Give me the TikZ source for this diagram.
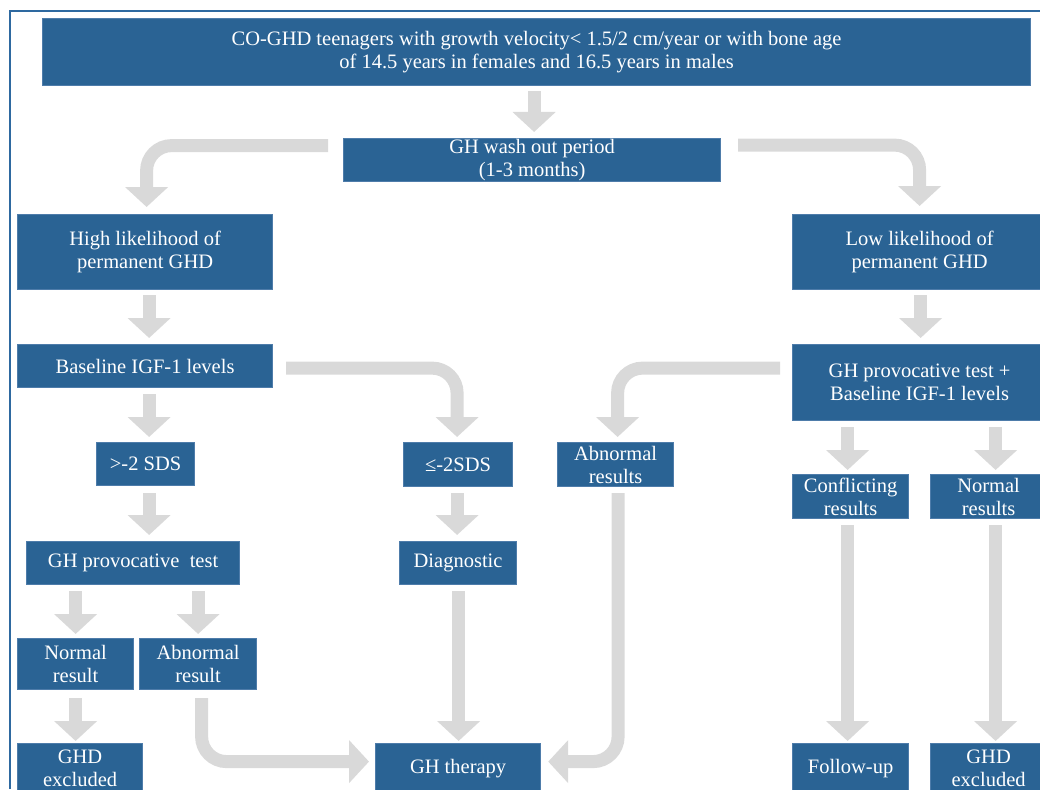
\documentclass[tikz,border=0pt]{standalone}
\usepackage{fontspec}
\setmainfont{Liberation Serif}
\usetikzlibrary{arrows.meta,calc,positioning}
\definecolor{boxblue}{RGB}{42,99,148}
\definecolor{boxedge}{RGB}{78,124,170}
\definecolor{arrowgray}{RGB}{217,217,217}
\definecolor{frameblue}{RGB}{46,105,160}

\begin{document}
\begin{tikzpicture}[x=1pt,y=-1pt,
  every node/.style={draw=boxedge,fill=boxblue,text=white,align=center,inner sep=0pt,
    anchor=north west,line width=1.2pt,font=\fontsize{20.5}{23}\selectfont},
  flow/.style={draw=arrowgray,line width=13pt,rounded corners=25pt,-{Triangle[width=42pt,length=20pt]}}]
\useasboundingbox (0,0) rectangle (1040,789);
\draw [frameblue,line width=2pt] (10,789) -- (10,11) -- (1040,11);
% boxes
\node [minimum width=988pt,minimum height=67pt] (TopBox) at (42,18) {CO-GHD teenagers with growth velocity< 1.5/2 cm/year or with bone age\\of 14.5 years in females and 16.5 years in males};
\node [minimum width=377pt,minimum height=43pt] (WashOut) at (343,138) {GH wash out period\\(1-3 months)};
\node [minimum width=255pt,minimum height=75pt] (HighLikely) at (17,214) {High likelihood of\\permanent GHD};
\node [minimum width=254pt,minimum height=75pt] (LowLikely) at (792,214) {Low likelihood of\\permanent GHD};
\node [minimum width=255pt,minimum height=43pt] (BaselineIgf) at (17,344) {Baseline IGF-1 levels};
\node [minimum width=254pt,minimum height=76pt] (ProvTestIgf) at (792,344) {GH provocative test +\\Baseline IGF-1 levels};
\node [minimum width=98pt,minimum height=43pt] (AboveSds) at (96,442) {>-2 SDS};
\node [minimum width=109pt,minimum height=44pt] (BelowSds) at (403,442) {≤-2SDS};
\node [minimum width=116pt,minimum height=44pt] (AbnormalRight) at (557,442) {Abnormal\\results};
\node [minimum width=116pt,minimum height=44pt] (ConflictRes) at (792,474) {Conflicting\\results};
\node [minimum width=116pt,minimum height=44pt] (NormalRight) at (930,474) {Normal\\results};
\node [minimum width=213pt,minimum height=43pt] (ProvTest) at (26,541) {GH provocative~ test};
\node [minimum width=117pt,minimum height=43pt] (Diagnostic) at (399,541) {Diagnostic};
\node [minimum width=116pt,minimum height=51pt] (NormalRes) at (17,638) {Normal\\result};
\node [minimum width=117pt,minimum height=51pt] (AbnormalRes) at (139,638) {Abnormal\\result};
\node [minimum width=125pt,minimum height=50pt] (GhdExcl) at (17,743) {GHD\\excluded};
\node [minimum width=165pt,minimum height=50pt] (GhTherapy) at (375,743) {GH therapy};
\node [minimum width=116pt,minimum height=50pt] (FollowUp) at (792,743) {Follow-up};
\node [minimum width=116pt,minimum height=50pt] (GhdExclRight) at (930,743) {GHD\\excluded};
% arrows
\draw [flow] ($(TopBox.south)+(-2.5,5)$) -- ($(WashOut.north)+(2,-6)$);
\draw [flow] ($(WashOut.west)+(-15,-14.5)$) -| ($(HighLikely.north)+(1.5,-7)$);
\draw [flow] ($(WashOut.east)+(17,-15)$) -| ($(LowLikely.north)+(0,-8)$);
\draw [flow] ($(HighLikely.south)+(4,5)$) -- ($(BaselineIgf.north)+(4,-6)$);
\draw [flow] ($(LowLikely.south)+(1,5)$) -- ($(ProvTestIgf.north)+(1,-6)$);
\draw [flow] ($(BaselineIgf.south)+(4,6)$) -- ($(AboveSds.north)+(3.5,-5)$);
\draw [flow] ($(AboveSds.south)+(3.5,7)$) -- ($(ProvTest.north)+(16,-6)$);
\draw [flow] ($(BaselineIgf.east)+(13,2)$) -| ($(BelowSds.north)+(-1,-5)$);
\draw [flow] ($(ProvTestIgf.west)+(-12,-14.5)$) -| ($(AbnormalRight.north)+(2,-5)$);
\draw [flow] ($(BelowSds.south)+(-1,6)$) -- ($(Diagnostic.north)+(-1,-6)$);
\draw [flow] ($(ProvTestIgf.south -| ConflictRes.north)+(-3,6)$) -- ($(ConflictRes.north)+(-3,-4)$);
\draw [flow] ($(ProvTestIgf.south -| NormalRight.north)+(7,6)$) -- ($(NormalRight.north)+(7,-4)$);
\draw [flow] ($(ProvTest.south -| NormalRes.north)+(0,6)$) -- ($(NormalRes.north)+(0,-4)$);
\draw [flow] ($(ProvTest.south -| AbnormalRes.north)+(0,6)$) -- ($(AbnormalRes.north)+(0,-4)$);
\draw [flow] ($(NormalRes.south)+(0,8)$) -- ($(GhdExcl.north)+(-4.5,-2)$);
\draw [flow] ($(AbnormalRes.south)+(3.5,8)$) |- ($(GhTherapy.west)+(-6,-7)$);
\draw [flow] ($(Diagnostic.south)+(0.5,6)$) -- ($(GhTherapy.north)+(0.5,-2)$);
\draw [flow] ($(AbnormalRight.south)+(2.5,6)$) |- ($(GhTherapy.east)+(7,-7)$);
\draw [flow] ($(ConflictRes.south)+(-3,6)$) -- ($(FollowUp.north)+(-3,-2)$);
\draw [flow] ($(NormalRight.south)+(7,6)$) -- ($(GhdExclRight.north)+(7,-2)$);
\end{tikzpicture}
\end{document}
